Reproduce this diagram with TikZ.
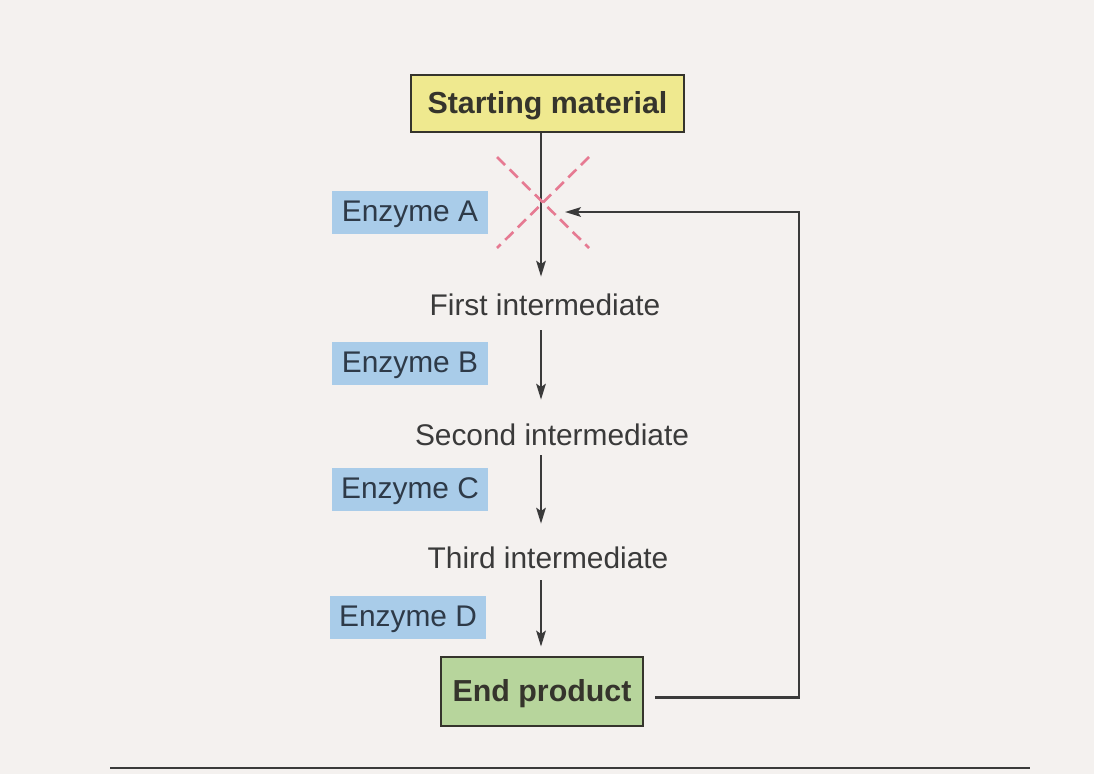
\documentclass[tikz,border=0pt]{standalone}
\usepackage{fontspec}
\setmainfont{Liberation Sans}
\usetikzlibrary{arrows.meta}

\definecolor{paper}{HTML}{F4F1EF}
\definecolor{ink}{HTML}{3A3A3A}
\definecolor{enzblue}{HTML}{A9CCE9}
\definecolor{enzink}{HTML}{2E3A48}
\definecolor{startfill}{HTML}{EFE98F}
\definecolor{endfill}{HTML}{B7D59C}
\definecolor{boxline}{HTML}{35342C}
\definecolor{block}{HTML}{E67A92}

\tikzset{
  txt/.style={font=\fontsize{17}{20}\selectfont, text=ink, inner sep=0pt},
  enzyme/.style={font=\fontsize{17}{20}\selectfont, text=enzink, fill=enzblue,
    minimum width=3.14cm, minimum height=0.86cm, inner sep=0pt,
    text height=12.2pt, text depth=1.5pt},
  keybox/.style={font=\bfseries\fontsize{17.3}{20}\selectfont, text=boxline,
    draw=boxline, line width=1.6pt, inner sep=0pt,
    text height=12.4pt, text depth=0.5pt},
  arr/.style={draw=ink, line width=1.45pt, -{Stealth[length=9pt,width=5.4pt,inset=1.8pt]}},
  inhibit/.style={draw=block, line width=1.5pt, dash pattern=on 6.5pt off 3.6pt},
}

\begin{document}
\begin{tikzpicture}[x=0.02cm, y=-0.02cm]
  % page
  \fill[paper] (0,0) rectangle (1094,774);
  \useasboundingbox (0,0) rectangle (1094,774);

  % pathway nodes
  \node[keybox, fill=startfill, minimum width=5.46cm, minimum height=1.14cm] (start) at (547.5,103.5) {Starting material};
  \node[txt] (first)  at (545,305) {First intermediate};
  \node[txt] (second) at (552,435) {Second intermediate};
  \node[txt] (third)  at (548,558) {Third intermediate};
  \node[keybox, fill=endfill, minimum width=4.04cm, minimum height=1.38cm] (endp) at (542,691.5) {End product};

  % enzymes
  \node[enzyme] (enzA) at (410,212) {Enzyme A};
  \node[enzyme] (enzB) at (410,363) {Enzyme B};
  \node[enzyme] (enzC) at (410,489) {Enzyme C};
  \node[enzyme] (enzD) at (408,617) {Enzyme D};

  % reference points
  \coordinate (axis) at (541,0);
  \coordinate (blk)  at (543,203);
  \coordinate (fbtip) at (565,212);
  \coordinate (fbx)  at (799,0);
  \coordinate (ruleL) at (110,768);
  \coordinate (ruleR) at (1030,768);

  % main sequence
  \draw[arr, shorten >=0.34cm] (start.south -| axis) -- (first.north -| axis);
  \draw[arr, shorten <=0.28cm, shorten >=0.48cm] (first.south -| axis) -- (second.north -| axis);
  \draw[arr, shorten <=0.18cm, shorten >=0.46cm] (second.south -| axis) -- (third.north -| axis);
  \draw[arr, shorten <=0.22cm, shorten >=0.18cm] (third.south -| axis) -- (endp.north -| axis);

  % feedback inhibition
  \draw[arr] ([shift={(11,6)}]endp.east) -| (fbx |- fbtip) -- (fbtip);
  \draw[inhibit] ([shift={(-46,-46)}]blk) -- ([shift={(46,45)}]blk);
  \draw[inhibit] ([shift={(46,-46)}]blk) -- ([shift={(-46,45)}]blk);

  % rule under the figure
  \draw[ink, line width=1.3pt] (ruleL) -- (ruleR);
\end{tikzpicture}
\end{document}
